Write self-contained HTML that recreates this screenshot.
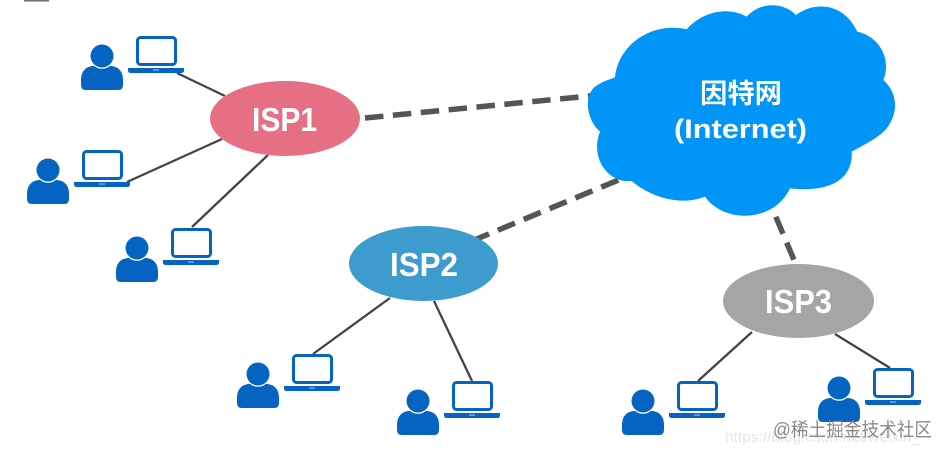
<!DOCTYPE html>
<html lang="zh">
<head>
<meta charset="utf-8">
<title>ISP diagram</title>
<style>
html,body{margin:0;padding:0;background:#fff;width:948px;height:455px;overflow:hidden}
svg{display:block;filter:blur(.35px)}
text{font-family:"Liberation Sans","Noto Sans CJK SC",sans-serif}
</style>
</head>
<body>
<svg width="948" height="455" viewBox="0 0 948 455" xmlns="http://www.w3.org/2000/svg">
<defs>
<g id="u">
<path d="M-21 29V24C-21 15-16 10.5-9 10H9C16 10.5 21 15 21 24V29Q21 34 16 34H-16Q-21 34-21 29Z" fill="#0563c1"/>
<circle cx="0" cy="0" r="12.8" fill="#fff"/>
<circle cx="0" cy="0" r="11.5" fill="#0563c1"/>
<rect x="35.5" y="-18.5" width="38" height="27" rx="3" fill="#fff" stroke="#0563c1" stroke-width="3"/>
<path d="M26 12H82V14.5Q82 17 79 17H29Q26 17 26 14.5Z" fill="#0563c1"/>
<rect x="51" y="13.5" width="6" height="1" fill="#9fd0f0"/>
</g>
</defs>
<rect x="24" y="0" width="25" height="1.6" fill="#777"/>

<g stroke="#444" stroke-width="2.3" fill="none">
<path d="M177 73L225 96"/>
<path d="M127 182L222 139"/>
<path d="M192 227L268 155"/>
<path d="M390 298L313 354"/>
<path d="M434 301L472 381"/>
<path d="M752 332L698 381"/>
<path d="M835 334L890 368"/>
</g>
<g stroke="#555" stroke-width="5.5" fill="none" stroke-dasharray="18.5 9.5">
<path d="M365 118L610 94"/>
<path d="M472 241L640 171"/>
<path d="M765 191L794 260"/>
</g>

<path transform="translate(570 0) scale(.33333)" fill="#0095f6" d="M135 232C145 130 250 65 350 88C390 40 470 15 530 50C570 5 640 5 678 45C730 5 820 5 862 95C930 110 965 180 940 240C985 280 985 340 950 385C925 415 880 435 845 455C850 530 790 580 660 565C610 670 460 670 405 590C330 620 240 590 185 543C110 550 60 470 90 395C50 360 40 290 75 260C95 245 115 240 135 232Z"/>

<ellipse cx="285" cy="118.5" rx="75" ry="37.5" fill="#e66f84"/>
<ellipse cx="423.5" cy="263.5" rx="74.5" ry="37.5" fill="#3e9bcd"/>
<ellipse cx="798.5" cy="301" rx="75.5" ry="37" fill="#a5a5a5"/>

<g fill="#fff" font-weight="700" font-size="33">
<text x="252" y="131" textLength="65" lengthAdjust="spacingAndGlyphs">ISP1</text>
<text x="390" y="276" textLength="68" lengthAdjust="spacingAndGlyphs">ISP2</text>
<text x="765" y="313" textLength="67" lengthAdjust="spacingAndGlyphs">ISP3</text>
<text x="700" y="103" font-size="27" textLength="82" lengthAdjust="spacingAndGlyphs">因特网</text>
<text x="674" y="138" font-size="27" textLength="133" lengthAdjust="spacingAndGlyphs">(Internet)</text>
</g>

<use href="#u" x="102" y="56"/>
<use href="#u" x="48" y="170"/>
<use href="#u" x="137" y="248"/>
<use href="#u" x="258" y="374"/>
<use href="#u" x="418" y="401"/>
<use href="#u" x="643" y="401"/>
<use href="#u" x="839" y="388"/>

<text x="725" y="442" font-size="15" fill="#e6e6e6" textLength="195" lengthAdjust="spacingAndGlyphs">https://blog.csdn.net/weixin_</text>
<text x="773" y="436" font-size="19" fill="#8a8a8a" textLength="159" lengthAdjust="spacingAndGlyphs">@稀土掘金技术社区</text>
</svg>
</body>
</html>
